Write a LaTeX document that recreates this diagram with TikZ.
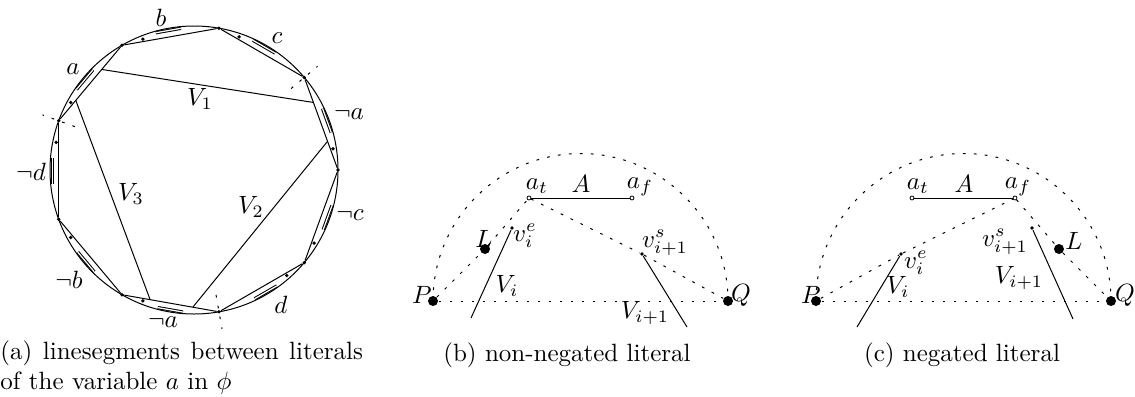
\documentclass[tikz,border=0pt]{standalone}
\usepackage{tikz}
\usetikzlibrary{calc}
\tikzstyle{dot}=[circle,fill=black, minimum size = 1.5pt, inner sep=0pt]
\tikzstyle{bigdot}=[circle,fill=black, minimum size = 4pt, inner sep=0pt]
\tikzstyle{odot}=[circle,draw=black,fill=white, line width=0.3pt, minimum size = 1.6pt, inner sep=0pt]
\tikzstyle{dotline}=[dash pattern=on 1.1pt off 3.3pt]
\tikzstyle{litseg}=[double, double distance=0.5pt]
\tikzstyle{lbl}=[inner sep=0.5pt]

\begin{document}
\begin{tikzpicture}[x=0.4pt,y=0.4pt]
\useasboundingbox (0,0) rectangle (1135,396);
% (a) clauses on the circle
\coordinate (O) at (194,226);
\draw (O) circle [radius=144];
\foreach \k/\ang in {1/120,2/80,3/40,4/0,5/-40,6/-80,7/-120,8/-160,9/160}
  \node [dot] (v\k) at ($(O)+(\ang:144)$) {};
\foreach \k in {3,6,9}
  \draw [dotline] ($(O)!0.88!(v\k)$) -- ($(O)!1.12!(v\k)$);
\foreach \s/\t/\f/\lx/\ly/\txt in {1/2/0.22/161/378/$b$, 2/3/0.22/277/358/$c$,
    3/4/0.78/349/282/$\neg a$, 4/5/0.78/350/181/$\neg c$, 5/6/0.22/281/91/$d$,
    6/7/0.78/163/74/$\neg a$, 7/8/0.78/69/116/$\neg b$, 8/9/0.78/31/224/$\neg d$,
    9/1/0.22/73/327/$a$}
{
  \draw (v\s) -- (v\t);
  \node [dot] (d\s) at ($(v\s)!\f!(v\t)!1pt!90:(v\t)$) {};
  \coordinate (at\s) at ($(v\s)!0.36!(v\t)!2.6pt!90:(v\t)$);
  \coordinate (af\s) at ($(v\s)!0.62!(v\t)!2.6pt!90:(v\t)$);
  \draw [litseg] (at\s) -- (af\s);
  \node [lbl] (n\s) at (\lx,\ly) {\txt};
}
\coordinate (s1) at ($(v9)!0.68!(v1)$);
\coordinate (e1) at ($(v3)!0.27!(v4)$);
\coordinate (s2) at ($(v3)!0.69!(v4)$);
\coordinate (e2) at ($(v6)!0.27!(v7)$);
\coordinate (s3) at ($(v9)!0.27!(v1)$);
\coordinate (e3) at ($(v6)!0.71!(v7)$);
\draw (s1) -- (e1);
\draw (s2) -- (e2);
\draw (s3) -- (e3);
\node [lbl] (V1) at (200,297) {$V_1$};
\node [lbl] (V2) at (251,189) {$V_2$};
\node [lbl] (V3) at (131,202) {$V_3$};
\node [anchor=north west, inner sep=0pt, text width=145pt, align=justify] (capa) at (0,56)
  {(a) linesegments between literals\linebreak of the variable $a$ in $\phi$};
% (b) non-negated
\node [bigdot] (bP) at (433,95) {};
\node [bigdot] (bQ) at (728,95) {};
\node [odot] (bat) at (529,198) {};
\node [odot] (baf) at (632,198) {};
\node [bigdot] (bL) at (485,147) {};
\node [dot] (bve) at (512,168) {};
\node [dot] (bvs) at (642,142) {};
\coordinate (bVi) at (471,78);
\coordinate (bVj) at (687,69);
\draw [dotline] (bP.center) arc [start angle=180, end angle=0, radius=147.5];
\draw [dotline] (bP) -- (bQ);
\draw [dotline] (bP) -- (bL) -- (bat);
\draw [dotline] (bat) -- (bvs) -- (bQ);
\draw (bat) -- (baf);
\draw (bve) -- (bVi);
\draw (bvs) -- (bVj);
\node [lbl] (bPl) at (422,101) {$P$};
\node [lbl] (bQl) at (741,101) {$Q$};
\node [lbl] (batl) at (537,210) {$a_t$};
\node [lbl] (bA) at (581,212) {$A$};
\node [lbl] (bafl) at (640,209) {$a_f$};
\node [lbl] (bLl) at (484,157) {$L$};
\node [lbl] (bvel) at (525,160) {$v_i^e$};
\node [lbl] (bvsl) at (665,153) {$v_{i+1}^s$};
\node [lbl] (bVil) at (507,110) {$V_i$};
\node [lbl] (bVjl) at (645,83) {$V_{i+1}$};
\node [anchor=base] (capb) at (567,35) {(b) non-negated literal};
% (c) negated
\node [bigdot] (cP) at (816,95) {};
\node [bigdot] (cQ) at (1111,95) {};
\node [odot] (cat) at (912,198) {};
\node [odot] (caf) at (1015,198) {};
\node [bigdot] (cL) at (1059,147) {};
\node [dot] (cve) at (901,142) {};
\node [dot] (cvs) at (1032,168) {};
\coordinate (cVi) at (857,69);
\coordinate (cVj) at (1073,77);
\draw [dotline] (cP.center) arc [start angle=180, end angle=0, radius=147.5];
\draw [dotline] (cP) -- (cQ);
\draw [dotline] (cP) -- (cve) -- (caf);
\draw [dotline] (caf) -- (cL) -- (cQ);
\draw (cat) -- (caf);
\draw (cve) -- (cVi);
\draw (cvs) -- (cVj);
\node [lbl] (cPl) at (811,101) {$P$};
\node [lbl] (cQl) at (1125,101) {$Q$};
\node [lbl] (catl) at (918,210) {$a_t$};
\node [lbl] (cA) at (964,212) {$A$};
\node [lbl] (cafl) at (1018,209) {$a_f$};
\node [lbl] (cLl) at (1074,155) {$L$};
\node [lbl] (cvel) at (916,133) {$v_i^e$};
\node [lbl] (cvsl) at (1005,154) {$v_{i+1}^s$};
\node [lbl] (cVil) at (898,109) {$V_i$};
\node [lbl] (cVjl) at (1019,118) {$V_{i+1}$};
\node [anchor=base] (capc) at (962,35) {(c) negated literal};
\end{tikzpicture}
\end{document}
